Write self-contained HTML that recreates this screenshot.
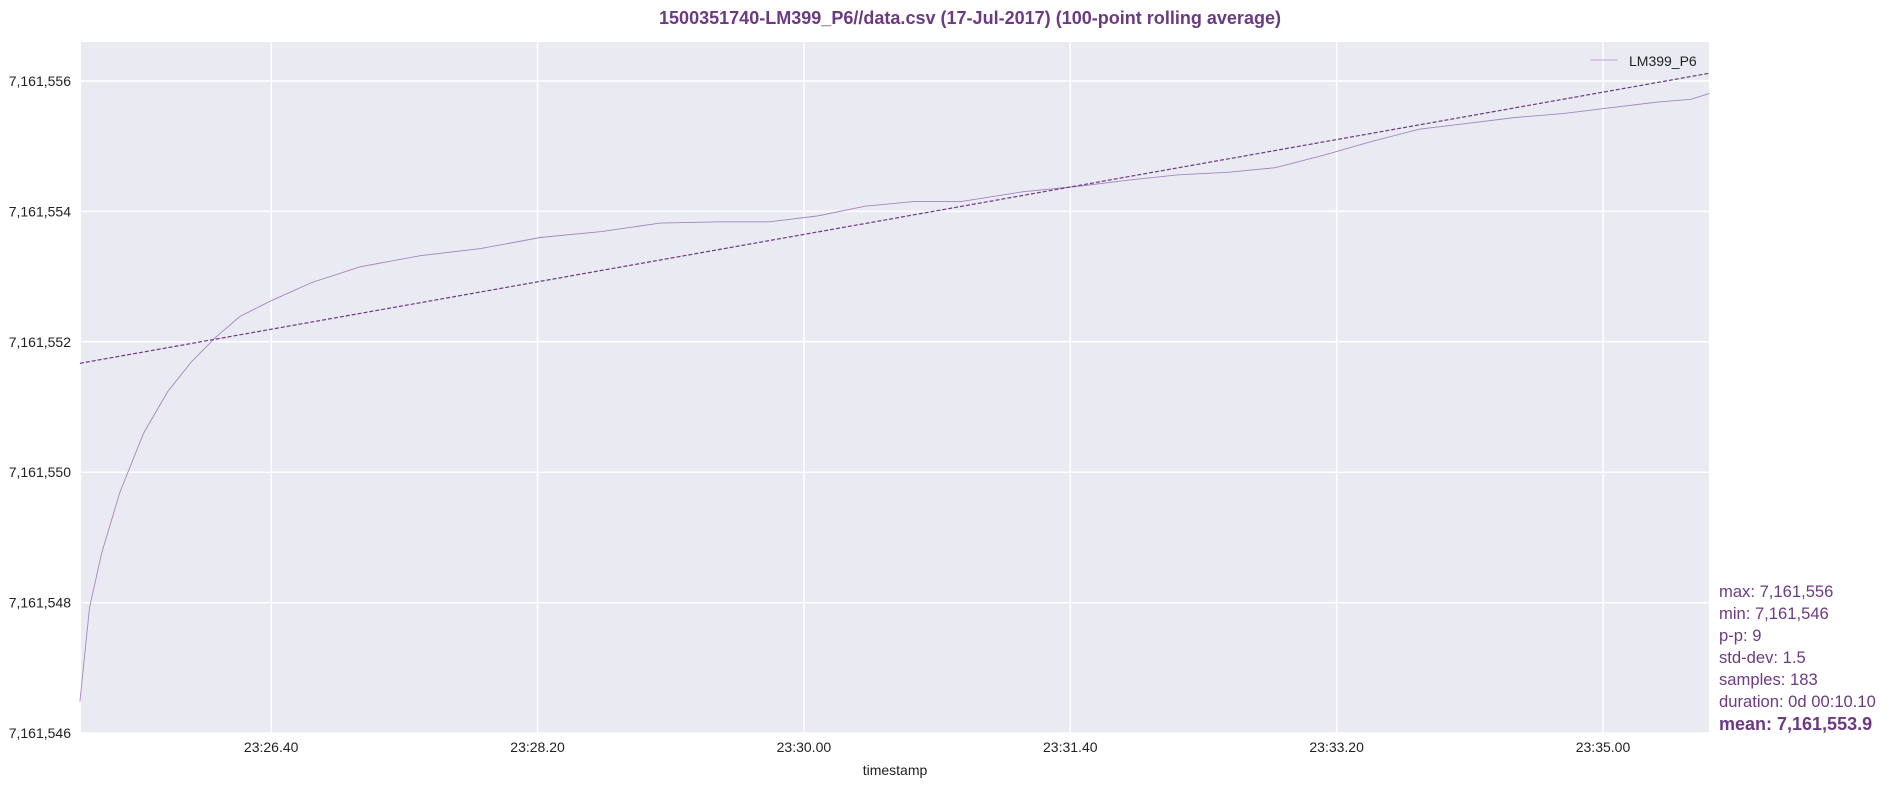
<!DOCTYPE html>
<html><head><meta charset="utf-8">
<style>
html,body{margin:0;padding:0;background:#fff;}
svg{display:block;font-family:"Liberation Sans",Arial,sans-serif;}
</style></head>
<body>
<svg id="chart" width="1886" height="788" xmlns="http://www.w3.org/2000/svg">
<text x="970" y="24" text-anchor="middle" font-size="18" font-weight="bold" fill="#6c3a83" textLength="622" lengthAdjust="spacingAndGlyphs">1500351740-LM399_P6//data.csv (17-Jul-2017) (100-point rolling average)</text>
<rect x="81" y="42" width="1628" height="691" fill="#eaeaf2"/>
<g id="grid"></g>
<g id="series"></g>
<g>
<line x1="1590" y1="60" x2="1618" y2="60" stroke="#c9b3dc" stroke-width="1.2"/>
<text x="1629" y="66" font-size="14" fill="#222">LM399_P6</text>
</g>
<text x="895" y="775" text-anchor="middle" font-size="14" fill="#222">timestamp</text>
<g font-size="16.6" fill="#6c3a83">
<text x="1719" y="597">max: 7,161,556</text>
<text x="1719" y="619">min: 7,161,546</text>
<text x="1719" y="641">p-p: 9</text>
<text x="1719" y="663">std-dev: 1.5</text>
<text x="1719" y="685">samples: 183</text>
<text x="1719" y="707">duration: 0d 00:10.10</text>
<text x="1719" y="730" font-weight="bold" font-size="18">mean: 7,161,553.9</text>
</g>
</svg>
<script>
// seconds relative to 23:26:40
const times = [-71.8,-68.2,-63.7,-56.9,-47.9,-38.8,-29.8,-20.8,-11.7,0,15.3,33.4,56,78.6,101,124,146,169,187,205,223,241,259,282,304,322,340,359,377,395,413,431,449,467,485,503,521,533,540];
// value minus 7,161,000
const values = [546.48,547.92,548.75,549.68,550.6,551.24,551.7,552.07,552.39,552.63,552.91,553.15,553.32,553.43,553.6,553.69,553.82,553.84,553.84,553.93,554.08,554.15,554.15,554.3,554.39,554.48,554.56,554.6,554.67,554.86,555.07,555.26,555.35,555.44,555.5,555.59,555.68,555.72,555.81];
const trendTimes = [-71.8,540];
const trendValues = [551.67,556.12];
const yTicks = [546,548,550,552,554,556];
const yTickLabels = ["7,161,546","7,161,548","7,161,550","7,161,552","7,161,554","7,161,556"];
const xTicks = [0,100,200,300,400,500];
const xTickLabels = ["23:26.40","23:28.20","23:30.00","23:31.40","23:33.20","23:35.00"];

const X0=81,X1=1709,Y0=42,Y1=733;
const tMin=-71.4,tMax=539.8;
function xs(t){return X0+(t-tMin)/(tMax-tMin)*(X1-X0);}
function ys(v){return 733-(v-546)*65.2;}
const NS="http://www.w3.org/2000/svg";
const grid=document.getElementById('grid');
const svg=document.getElementById('chart');
yTicks.forEach((v,i)=>{
  const y=ys(v);
  const l=document.createElementNS(NS,'line');
  l.setAttribute('x1',X0);l.setAttribute('x2',X1);l.setAttribute('y1',y);l.setAttribute('y2',y);
  l.setAttribute('stroke','#fff');l.setAttribute('stroke-width','1.5');
  
  
  grid.appendChild(l);
  const t=document.createElementNS(NS,'text');
  t.setAttribute('x',71);t.setAttribute('y',y+5);t.setAttribute('text-anchor','end');
  t.setAttribute('font-size','14');t.setAttribute('fill','#222');
  t.textContent=yTickLabels[i];
  
  
  svg.appendChild(t);
});
xTicks.forEach((s,i)=>{
  const x=xs(s);
  const l=document.createElementNS(NS,'line');
  l.setAttribute('x1',x);l.setAttribute('x2',x);l.setAttribute('y1',Y0);l.setAttribute('y2',Y1);
  l.setAttribute('stroke','#fff');l.setAttribute('stroke-width','1.5');
  
  
  grid.appendChild(l);
  const t=document.createElementNS(NS,'text');
  t.setAttribute('x',x);t.setAttribute('y',752);t.setAttribute('text-anchor','middle');
  t.setAttribute('font-size','14');t.setAttribute('fill','#222');
  t.textContent=xTickLabels[i];
  
  
  svg.appendChild(t);
});
const series=document.getElementById('series');
const p=document.createElementNS(NS,'polyline');
p.setAttribute('points',times.map((t,i)=>xs(t).toFixed(1)+','+ys(values[i]).toFixed(1)).join(' '));
p.setAttribute('fill','none');p.setAttribute('stroke','#a585c0');p.setAttribute('stroke-width','0.9');


series.appendChild(p);
const tr=document.createElementNS(NS,'polyline');
tr.setAttribute('points',trendTimes.map((t,i)=>xs(t).toFixed(1)+','+ys(trendValues[i]).toFixed(1)).join(' '));
tr.setAttribute('fill','none');tr.setAttribute('stroke','#6c3a83');tr.setAttribute('stroke-width','1.2');tr.setAttribute('stroke-dasharray','4,2');


series.appendChild(tr);
</script>
</body></html>
